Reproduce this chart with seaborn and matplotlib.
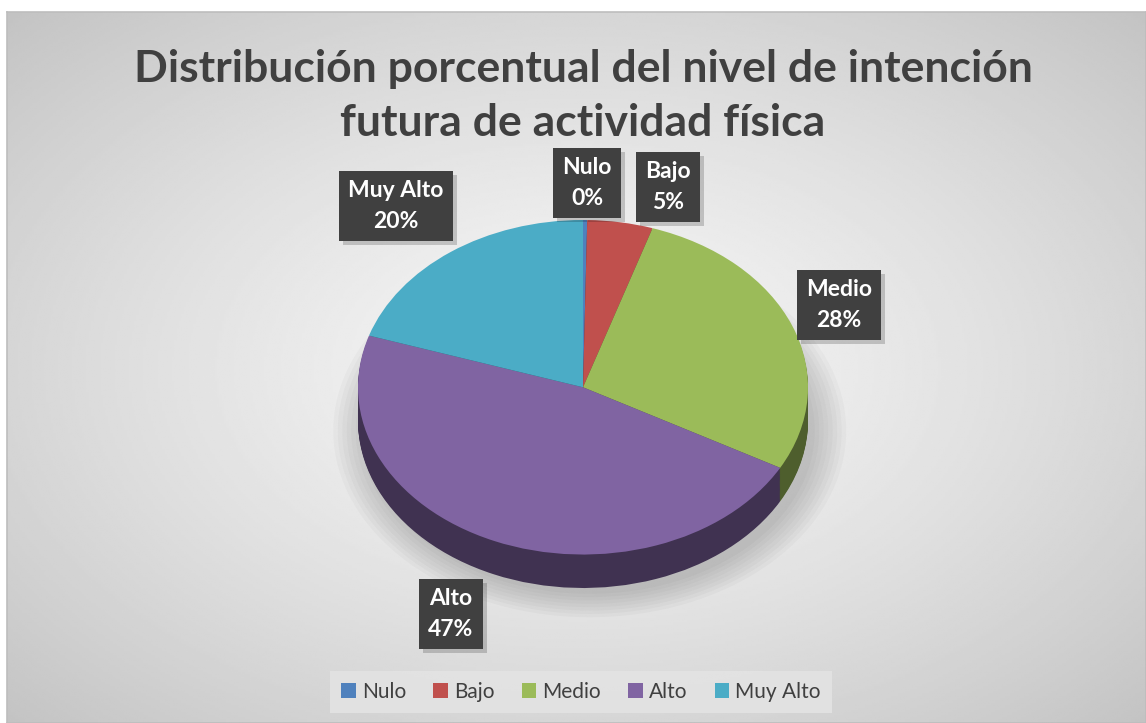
import numpy as np
import matplotlib.pyplot as plt
import matplotlib.colors as mcolors
from matplotlib.patches import Ellipse, Rectangle
import seaborn as sns

categories = ['Nulo', 'Bajo', 'Medio', 'Alto', 'Muy Alto']
percentages = [0.3, 4.7, 28, 47, 20]
colors = ['#4f81bd', '#c0504d', '#9bbb59', '#8064a2', '#4bacc6']
title = 'Distribución porcentual del nivel de intención\nfutura de actividad física'

sns.set_theme(style='white')
plt.rcParams['font.family'] = ['Lato', 'DejaVu Sans']

W, H = 1146, 723
fig = plt.figure(figsize=(W / 100, H / 100), dpi=100, facecolor='white')

# radial gradient background of the chart area
bg = fig.add_axes([7 / W, 0, 1 - 7 / W, 1 - 12 / H])
yy, xx = np.mgrid[0:300, 0:480]
r = np.sqrt(((xx - 240) / 240) ** 2 + ((yy - 150) / 150) ** 2) / np.sqrt(2)
shade = 0.965 - 0.20 * r ** 1.3
bg.imshow(shade, cmap='gray', vmin=0, vmax=1, aspect='auto', extent=(0, 1, 0, 1))
bg.set_xticks([])
bg.set_yticks([])
for s in bg.spines.values():
    s.set_color('#bdbdbd')
    s.set_linewidth(1.2)

# pie axes: ellipse with 3D depth
depth = 0.2
ax = fig.add_axes([358 / W, (H - 588) / H, 450 / W, 368 / H])
ax.patch.set_alpha(0)

# soft shadow under the pie
for k in range(8):
    ax.add_patch(Ellipse((0.03, -0.26), 2.0 + 0.04 * k, 1.95 + 0.04 * k,
                         color='black', alpha=0.025, lw=0, clip_on=False, zorder=0))

side_colors = [mcolors.to_rgb(c) for c in colors]
side_colors = [tuple(v * 0.5 for v in c) for c in side_colors]
for d in np.linspace(depth, 0.01, 30):
    ax.pie(percentages, colors=side_colors, startangle=90, counterclock=False,
           center=(0, -d), radius=1, wedgeprops=dict(linewidth=0))

wedges, _ = ax.pie(percentages, colors=colors, startangle=90, counterclock=False,
                   radius=1, wedgeprops=dict(linewidth=0))
ax.set_aspect('auto')
ax.set_xlim(-1, 1)
ax.set_ylim(-1 - depth, 1)
ax.axis('off')

fig.text(583 / W, 1 - 96 / H, title, ha='center', va='center', fontsize=32,
         fontweight='bold', color='#404040', linespacing=1.45)

# data labels
label_pos = [(587, 183), (668, 187), (839, 305), (451, 614), (396, 206)]
labels = []
for name, p, (px, py) in zip(categories, percentages, label_pos):
    t = fig.text(px / W, 1 - py / H, f'{name}\n{round(p)}%', ha='center', va='center',
                 fontsize=16.5, fontweight='bold', color='white', linespacing=1.6, zorder=5,
                 bbox=dict(boxstyle='square,pad=0.4', fc='#404040', ec='none'))
    labels.append(t)

# box shadows
fig.canvas.draw()
for t in labels:
    bb = t.get_bbox_patch().get_window_extent()
    fig.add_artist(Rectangle(((bb.x0 + 4) / W, (bb.y0 - 4) / H), bb.width / W, bb.height / H,
                             transform=fig.transFigure, fc='black', ec='none',
                             alpha=0.18, zorder=4))

leg = fig.legend(wedges, categories, loc='center', bbox_to_anchor=(581 / W, 1 - 692 / H),
                 ncol=5, frameon=True, fancybox=False, facecolor='#e3e3e3', edgecolor='none',
                 fontsize=15, handlelength=0.7, handleheight=0.7, columnspacing=1.3,
                 handletextpad=0.3, labelcolor='#404040', borderpad=0.55)
leg.get_frame().set_alpha(0.9)

fig.savefig('out.png', dpi=100, facecolor='white')
